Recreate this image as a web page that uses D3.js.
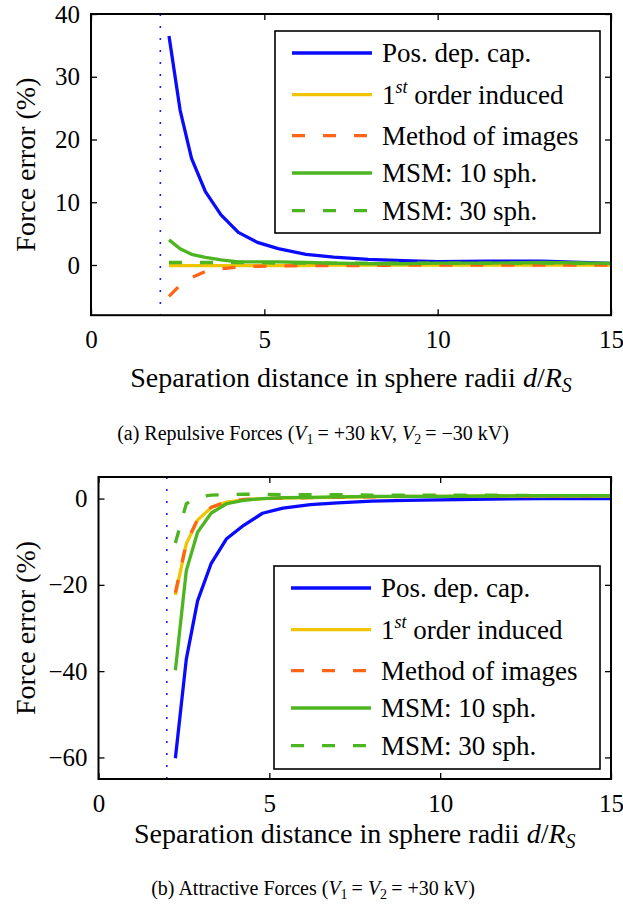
<!DOCTYPE html>
<html>
<head>
<meta charset="utf-8">
<script src="https://cdn.jsdelivr.net/npm/d3@7/dist/d3.min.js"></script>
<style>
  html, body { margin: 0; padding: 0; background: #fff; }
  svg { display: block; }
  svg text { font-family: "Liberation Serif", "Times New Roman", serif; }
</style>
</head>
<body>
<svg id="fig" width="623" height="911"></svg>
<script>
// Separation distance d/R_S at which each force error was evaluated
const dist = [2.25, 2.57, 2.9, 3.3, 3.75, 4.25, 4.8, 5.4, 6.2, 7.0, 8.0, 9.0, 10.0, 11.5, 13.0, 15.0];

// (a) Repulsive forces, error in %
const posDepCapRep = [36.5, 24.7, 17.0, 11.7, 8.0, 5.2, 3.6, 2.6, 1.7, 1.25, 0.9, 0.7, 0.55, 0.6, 0.6, 0.25];
const firstOrderRep = [-0.1, -0.1, -0.1, -0.1, -0.1, -0.1, -0.1, -0.1, -0.1, 0, 0, 0, 0, 0, 0, 0];
const imagesRep = [-5.0, -3.2, -2.0, -1.05, -0.6, -0.35, -0.2, -0.15, -0.1, -0.1, -0.1, 0, 0, 0, 0, 0];
const msm10Rep = [4.0, 2.6, 1.7, 1.2, 0.8, 0.5, 0.5, 0.5, 0.4, 0.3, 0.2, 0.2, 0.3, 0.3, 0.4, 0.25];
const msm30Rep = [0.4, 0.4, 0.4, 0.4, 0.4, 0.4, 0.4, 0.3, 0.3, 0.3, 0.3, 0.3, 0.3, 0.3, 0.3, 0.25];

// (b) Attractive forces, error in %
const posDepCapAtt = [-60.2, -37.2, -23.7, -15.0, -9.3, -6.2, -3.4, -2.2, -1.4, -1.0, -0.6, -0.4, -0.3, -0.1, 0, 0];
const firstOrderAtt = [-22.3, -10.5, -5.0, -2.1, -0.8, -0.3, 0, 0.1, 0.2, 0.3, 0.4, 0.5, 0.5, 0.6, 0.6, 0.6];
const imagesAtt = [-21.8, -10.3, -4.8, -2.0, -0.7, -0.2, 0, 0.1, 0.2, 0.3, 0.4, 0.5, 0.5, 0.6, 0.6, 0.6];
const msm10Att = [-39.8, -16.7, -7.8, -3.35, -1.2, -0.4, 0, 0.2, 0.3, 0.4, 0.5, 0.5, 0.5, 0.6, 0.7, 0.7];
const msm30Att = [-10.3, -1.2, 0.3, 0.8, 0.9, 1.0, 1.0, 0.9, 0.9, 0.9, 0.8, 0.8, 0.8, 0.8, 0.7, 0.7];

// Sphere contact distance (d = 2 R_S)
const contactDistance = 2;

const seriesNames = ["Pos. dep. cap.", "1st order induced", "Method of images", "MSM: 10 sph.", "MSM: 30 sph."];
const xTicks = [0, 5, 10, 15];
const yTicksRep = [0, 10, 20, 30, 40];
const yTicksAtt = [-60, -40, -20, 0];

const styles = [
  { color: "#0a0aff", dash: null },
  { color: "#f0c400", dash: null },
  { color: "#ff6418", dash: "13 18" },
  { color: "#4cb520", dash: null },
  { color: "#4cb520", dash: "13 18" }
];

const svg = d3.select("#fig");
const TICK_FONT = 25;
const FONT = 27;

function panel(opts) {
  const x = d3.scaleLinear().domain([0, 15]).range([opts.left, opts.right]);
  const y = d3.scaleLinear().domain(opts.yDomain).range([opts.bottom, opts.top]);
  const g = svg.append("g");

  // mirrored inward ticks on all four sides
  const tick = 6;
  g.append("g").attr("transform", `translate(0,${opts.bottom})`)
    .call(d3.axisBottom(x).tickValues(xTicks).tickSize(-tick).tickPadding(15).tickFormat(d3.format("d")));
  g.append("g").attr("transform", `translate(0,${opts.top})`)
    .call(d3.axisTop(x).tickValues(xTicks).tickSize(-tick).tickFormat(""));
  g.append("g").attr("transform", `translate(${opts.left},0)`)
    .call(d3.axisLeft(y).tickValues(opts.yTicks).tickSize(-tick).tickPadding(11).tickFormat(d3.format("d")));
  g.append("g").attr("transform", `translate(${opts.right},0)`)
    .call(d3.axisRight(y).tickValues(opts.yTicks).tickSize(-tick).tickFormat(""));
  g.selectAll(".domain").remove();
  g.selectAll(".tick line").attr("stroke", "#000").attr("stroke-width", 1.3);
  g.selectAll(".tick text").attr("font-size", TICK_FONT).attr("fill", "#000");

  // contact-distance marker
  g.append("line")
    .attr("x1", x(contactDistance)).attr("x2", x(contactDistance))
    .attr("y1", opts.top).attr("y2", opts.bottom)
    .attr("stroke", "#1a1aff").attr("stroke-width", 1.6)
    .attr("stroke-dasharray", "2 10");

  const clipId = "clip" + opts.id;
  svg.append("clipPath").attr("id", clipId).append("rect")
    .attr("x", opts.left).attr("y", opts.top)
    .attr("width", opts.right - opts.left).attr("height", opts.bottom - opts.top);

  const line = d3.line().x((d, i) => x(dist[i])).y(d => y(d));
  const plot = g.append("g").attr("clip-path", `url(#${clipId})`);
  opts.series.forEach((vals, k) => {
    plot.append("path").datum(vals)
      .attr("d", line)
      .attr("fill", "none")
      .attr("stroke", styles[k].color)
      .attr("stroke-width", 3.3)
      .attr("stroke-linejoin", "round")
      .attr("stroke-dasharray", styles[k].dash);
  });

  // axes box
  g.append("rect")
    .attr("x", opts.left).attr("y", opts.top)
    .attr("width", opts.right - opts.left).attr("height", opts.bottom - opts.top)
    .attr("fill", "none").attr("stroke", "#000").attr("stroke-width", 2);

  // legend
  const L = opts.legend;
  const lg = g.append("g");
  lg.append("rect").attr("x", L.x).attr("y", L.y).attr("width", L.w).attr("height", L.h)
    .attr("fill", "#fff").attr("stroke", "#000").attr("stroke-width", 1.6);
  const rowOffsets = [22, 63.7, 104.7, 142, 179.7];
  seriesNames.forEach((name, k) => {
    const ry = L.y + rowOffsets[k];
    lg.append("line")
      .attr("x1", L.x + 17).attr("x2", L.x + 97)
      .attr("y1", ry).attr("y2", ry)
      .attr("stroke", styles[k].color).attr("stroke-width", 3.3)
      .attr("stroke-dasharray", styles[k].dash);
    const t = lg.append("text").attr("x", L.x + 107).attr("y", ry + 9)
      .attr("font-size", FONT).attr("fill", "#000");
    if (k === 1) {
      t.append("tspan").text("1");
      t.append("tspan").attr("font-style", "italic").attr("font-size", 18).attr("dy", -11).text("st");
      t.append("tspan").attr("dy", 11).text(" order induced");
    } else {
      t.text(name);
    }
  });

  // y-axis title
  const cy = (opts.top + opts.bottom) / 2;
  g.append("text")
    .attr("transform", `translate(35,${cy}) rotate(-90)`)
    .attr("text-anchor", "middle").attr("font-size", FONT + 1).attr("fill", "#000")
    .text("Force error (%)");

  // x-axis title
  const xt = g.append("text")
    .attr("x", (opts.left + opts.right) / 2).attr("y", opts.xTitleY)
    .attr("text-anchor", "middle").attr("font-size", 28).attr("fill", "#000");
  xt.append("tspan").text("Separation distance in sphere radii ");
  xt.append("tspan").attr("font-style", "italic").text("d");
  xt.append("tspan").text("/");
  xt.append("tspan").attr("font-style", "italic").text("R");
  xt.append("tspan").attr("font-style", "italic").attr("font-size", 20).attr("dy", 5).text("S");

  // caption
  const cap = svg.append("text")
    .attr("x", 313).attr("y", opts.captionY)
    .attr("text-anchor", "middle").attr("font-size", 20).attr("fill", "#000");
  opts.caption(cap);
}

// italic V with a subscript index; the last tspan restores the baseline
function vSub(t, sub) {
  t.append("tspan").attr("font-style", "italic").text("V");
  t.append("tspan").attr("font-size", 14).attr("dy", 4).text(sub);
  t.append("tspan").attr("dy", -4).text("\u2009");
}

panel({
  id: "a", left: 91, right: 611, top: 14, bottom: 315.2, yDomain: [-8, 40], yTicks: yTicksRep,
  series: [posDepCapRep, firstOrderRep, imagesRep, msm10Rep, msm30Rep],
  legend: { x: 275, y: 31, w: 325, h: 202 },
  xTitleY: 387, captionY: 440,
  caption: t => {
    t.append("tspan").text("(a) Repulsive Forces (");
    vSub(t, "1");
    t.append("tspan").text("= +30 kV, ");
    vSub(t, "2");
    t.append("tspan").text("= \u221230 kV)");
  }
});

panel({
  id: "b", left: 98.5, right: 611, top: 477, bottom: 779, yDomain: [-65, 5], yTicks: yTicksAtt,
  series: [posDepCapAtt, firstOrderAtt, imagesAtt, msm10Att, msm30Att],
  legend: { x: 274, y: 566, w: 326, h: 203 },
  xTitleY: 843, captionY: 895,
  caption: t => {
    t.append("tspan").text("(b) Attractive Forces (");
    vSub(t, "1");
    t.append("tspan").text("= ");
    vSub(t, "2");
    t.append("tspan").text("= +30 kV)");
  }
});
</script>
</body>
</html>
